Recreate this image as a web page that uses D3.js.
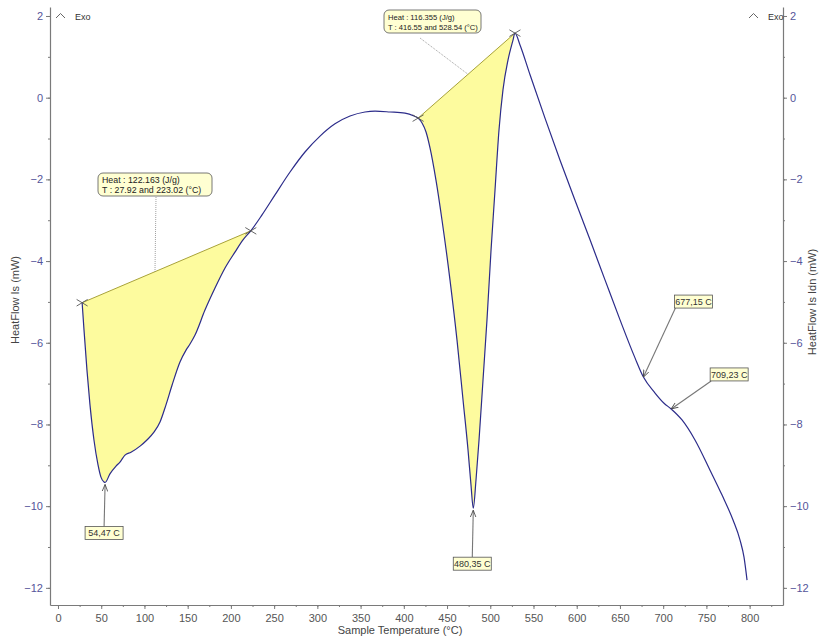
<!DOCTYPE html>
<html>
<head>
<meta charset="utf-8">
<script src="https://cdn.jsdelivr.net/npm/d3@7"></script>
<style>
  html, body { margin: 0; padding: 0; background: #fff; }
  svg { display: block; font-family: "Liberation Sans", Arial, sans-serif; }
</style>
</head>
<body>
<svg id="chart" width="819" height="639"></svg>
<script>
// DSC heat-flow trace: sample temperature (°C) and heat flow (mW)
const temperature = [
  27.92, 30.1, 33.5, 37.0, 41.6, 46.3, 49.7, 53.2, 54.47, 60.1, 67.1, 71.7, 77.5, 84.4,
  94.9, 102.9, 111.0, 118.0, 124.9, 131.9, 141.1, 148.1, 152.7, 158.5, 170.0, 181.6,
  193.2, 204.7, 214.0, 223.02, 236, 251, 268.4, 285.7, 303.1, 320.4, 337.8, 355.1,
  366.7, 384, 401.4, 411.8, 416.55, 421.1, 425.7, 430.3, 437.2, 444.2, 453.4, 461.5,
  468.5, 474.3, 477.7, 480.35, 483.5, 487, 491.6, 496.2, 500.9, 505.5, 510.1, 514.7,
  520.5, 526.3, 528.54, 534.4, 546, 563.3, 580.7, 598, 615.4, 632.7, 650.1, 667.4,
  677.15, 690.6, 701, 709.23, 721.8, 736.8, 754.2, 768.1, 780.8, 788.9, 793.5, 797
];
const heatFlow = [
  -5.02, -5.69, -6.67, -7.52, -8.38, -8.99, -9.29, -9.41, -9.42, -9.21, -9.02, -8.92, -8.75, -8.68,
  -8.53, -8.38, -8.19, -7.94, -7.52, -7.04, -6.47, -6.18, -6.03, -5.81, -5.20, -4.66,
  -4.17, -3.78, -3.48, -3.26, -2.87, -2.38, -1.82, -1.33, -0.94, -0.64, -0.45, -0.35,
  -0.33, -0.35, -0.38, -0.45, -0.50, -0.62, -0.84, -1.23, -2.02, -3.00, -4.46, -5.93,
  -7.40, -8.63, -9.48, -10.05, -9.36, -8.38, -6.91, -5.44, -3.73, -2.26, -0.79, 0.19,
  0.92, 1.41, 1.58, 1.29, 0.56, -0.50, -1.53, -2.51, -3.48, -4.46, -5.44, -6.37,
  -6.84, -7.23, -7.48, -7.62, -7.89, -8.38, -9.12, -9.73, -10.34, -10.83, -11.25, -11.81
];

// Peak integrations (baseline endpoints and enthalpy)
const integStart = [27.92, 416.55];
const integEnd = [223.02, 528.54];
const integHeat = [122.163, 116.355];

// Labelled peak / onset temperatures
const peakLabels = [54.47, 480.35, 677.15, 709.23];

// Axis ticks
const xTicks = d3.range(0, 801, 50);
const xMinorTicks = d3.range(0, 826, 25);
const yTicks = d3.range(2, -13, -2);
const yMinorTicks = d3.range(2, -13, -1);

const svg = d3.select("#chart");
const x = d3.scaleLinear().domain([-9.25, 838.6]).range([50, 783]);
const y = d3.scaleLinear().domain([2.22, -12.42]).range([7, 605]);

const data = temperature.map((t, i) => ({ t, h: heatFlow[i] }));
const hfAt = t => {
  const i = temperature.indexOf(t);
  if (i >= 0) return heatFlow[i];
  const j = d3.bisectLeft(temperature, t);
  const a = data[j - 1], b = data[j];
  return a.h + (b.h - a.h) * (t - a.t) / (b.t - a.t);
};

const tickColor = "#55559a";
const axisColor = "#7a7a7a";

// Integrated areas between baseline and curve
integStart.forEach((t1, k) => {
  const t2 = integEnd[k];
  const h1 = hfAt(t1), h2 = hfAt(t2);
  const base = t => h1 + (h2 - h1) * (t - t1) / (t2 - t1);
  const seg = data.filter(d => d.t >= t1 && d.t <= t2);
  svg.append("path")
    .datum(seg)
    .attr("fill", "#fdfb9e")
    .attr("stroke", "none")
    .attr("d", d3.area().x(d => x(d.t)).y0(d => y(base(d.t))).y1(d => y(d.h)));
  svg.append("line")
    .attr("x1", x(t1)).attr("y1", y(h1)).attr("x2", x(t2)).attr("y2", y(h2))
    .attr("stroke", "#a8a23a").attr("stroke-width", 1);
});

// Heat flow curve
svg.append("path")
  .datum(data)
  .attr("fill", "none")
  .attr("stroke", "#2c2c8a")
  .attr("stroke-width", 1.2)
  .attr("d", d3.line().x(d => x(d.t)).y(d => y(d.h)).curve(d3.curveMonotoneX));

// Cross markers at integration limits
integStart.concat(integEnd).forEach(t => {
  const cx = x(t), cy = y(hfAt(t)), s = 5.5;
  svg.append("path")
    .attr("d", `M${cx - s},${cy - s * 0.6}L${cx + s},${cy + s * 0.6}M${cx - s},${cy + s * 0.6}L${cx + s},${cy - s * 0.6}`)
    .attr("stroke", "#555").attr("stroke-width", 0.9);
});

// Axes
const axisG = svg.append("g");
function drawAxis(gen, transform, minorGen) {
  const g = axisG.append("g").attr("transform", transform).call(gen);
  g.select(".domain").attr("stroke", axisColor).attr("stroke-width", 1.2);
  g.selectAll(".tick line").attr("stroke", axisColor);
  g.selectAll(".tick text").attr("fill", tickColor)
    .attr("font-family", "Liberation Sans, Arial, sans-serif").attr("font-size", 11);
  const m = axisG.append("g").attr("transform", transform).call(minorGen);
  m.select(".domain").remove();
  m.selectAll(".tick line").attr("stroke", axisColor);
  m.selectAll(".tick text").remove();
  return g;
}
const gx = drawAxis(
  d3.axisBottom(x).tickValues(xTicks).tickSize(4).tickSizeOuter(0).tickPadding(5).tickFormat(d3.format("d")),
  `translate(0,605)`,
  d3.axisBottom(x).tickValues(xMinorTicks).tickSize(2).tickSizeOuter(0));
gx.selectAll(".tick text").attr("fill", "#555");
drawAxis(
  d3.axisLeft(y).tickValues(yTicks).tickSize(4).tickSizeOuter(0).tickPadding(3).tickFormat(d3.format("d")),
  `translate(50,0)`,
  d3.axisLeft(y).tickValues(yMinorTicks).tickSize(2).tickSizeOuter(0));
drawAxis(
  d3.axisRight(y).tickValues(yTicks).tickSize(4).tickSizeOuter(0).tickPadding(3).tickFormat(d3.format("d")),
  `translate(783,0)`,
  d3.axisRight(y).tickValues(yMinorTicks).tickSize(2).tickSizeOuter(0));

// Axis titles
svg.append("text").attr("x", 400).attr("y", 634).attr("text-anchor", "middle")
  .attr("font-size", 11).attr("fill", "#444").text("Sample Temperature (°C)");
svg.append("text").attr("transform", "translate(19,300) rotate(-90)").attr("text-anchor", "middle")
  .attr("font-size", 11).attr("fill", "#444").text("HeatFlow Is (mW)");
svg.append("text").attr("transform", "translate(816,302) rotate(-90)").attr("text-anchor", "middle")
  .attr("font-size", 11).attr("fill", "#444").text("HeatFlow Is Idn (mW)");

// Exo direction markers
[[56, 75], [749, 768]].forEach(([cx, tx]) => {
  svg.append("path").attr("d", `M${cx},${18}L${cx + 4.5},${13.5}L${cx + 9},${18}`)
    .attr("fill", "none").attr("stroke", "#555").attr("stroke-width", 0.9);
  svg.append("text").attr("x", tx).attr("y", 20).attr("font-size", 9).attr("fill", "#333").text("Exo");
});

// Arrowhead
svg.append("defs").append("marker")
  .attr("id", "arr").attr("viewBox", "0 0 10 10").attr("refX", 10).attr("refY", 5)
  .attr("markerWidth", 7).attr("markerHeight", 7).attr("orient", "auto-start-reverse")
  .attr("markerUnits", "userSpaceOnUse")
  .append("path").attr("d", "M0,1L10,5L0,9").attr("fill", "none").attr("stroke", "#444").attr("stroke-width", 1.2);

// Temperature labels with arrows
const labelOffsets = [[-20, 44, "top"], [-20, 49, "top"], [31, -82, "bottom"], [39, -41, "bottom"]];
const fmtC = t => d3.format(".2f")(t).replace(".", ",") + " C";
peakLabels.forEach((t, i) => {
  const px = x(t), py = y(hfAt(t));
  const [dx, dy, side] = labelOffsets[i];
  const txt = fmtC(t);
  const w = 38, h = 13;
  const bx = px + dx, by = py + dy;
  let sx, sy;
  if (side === "top") { sx = px - 1; sy = by; }
  else { sx = bx + 1; sy = by + h; }
  svg.append("line").attr("x1", sx).attr("y1", sy).attr("x2", px).attr("y2", py + (side === "top" ? 2 : 0))
    .attr("stroke", "#777").attr("stroke-width", 1.1).attr("marker-end", "url(#arr)");
  svg.append("rect").attr("x", bx).attr("y", by).attr("width", w).attr("height", h)
    .attr("fill", "#ffffd2").attr("stroke", "#555").attr("stroke-width", 0.8);
  svg.append("text").attr("x", bx + w / 2).attr("y", by + 9.8).attr("text-anchor", "middle")
    .attr("font-size", 9).attr("fill", "#333").text(txt);
});

// Enthalpy callouts with dotted leaders
const calloutBoxes = [[98, 173, 114, 8.8], [384, 10, 97, 7.6]];
const leaderTemps = [112.2, 474.3];
const leaderStart = [[156, 197], [420, 38]];
integHeat.forEach((q, k) => {
  const t1 = integStart[k], t2 = integEnd[k];
  const h1 = hfAt(t1), h2 = hfAt(t2);
  const lt = leaderTemps[k];
  const lh = h1 + (h2 - h1) * (lt - t1) / (t2 - t1);
  svg.append("line").attr("x1", leaderStart[k][0]).attr("y1", leaderStart[k][1])
    .attr("x2", x(lt)).attr("y2", y(lh))
    .attr("stroke", "#888").attr("stroke-width", 0.8).attr("stroke-dasharray", "1,1");
  const [bx, by, bw, fs] = calloutBoxes[k];
  svg.append("rect").attr("x", bx).attr("y", by).attr("width", bw).attr("height", 23).attr("rx", 5)
    .attr("fill", "#ffffd2").attr("stroke", "#555").attr("stroke-width", 0.8);
  svg.append("text").attr("x", bx + 4).attr("y", by + 10).attr("font-size", fs).attr("fill", "#222")
    .text(`Heat :  ${q.toFixed(3)} (J/g)`);
  svg.append("text").attr("x", bx + 4).attr("y", by + 20).attr("font-size", fs).attr("fill", "#222")
    .text(`T : ${t1.toFixed(2)} and ${t2.toFixed(2)} (°C)`);
});
</script>
</body>
</html>
